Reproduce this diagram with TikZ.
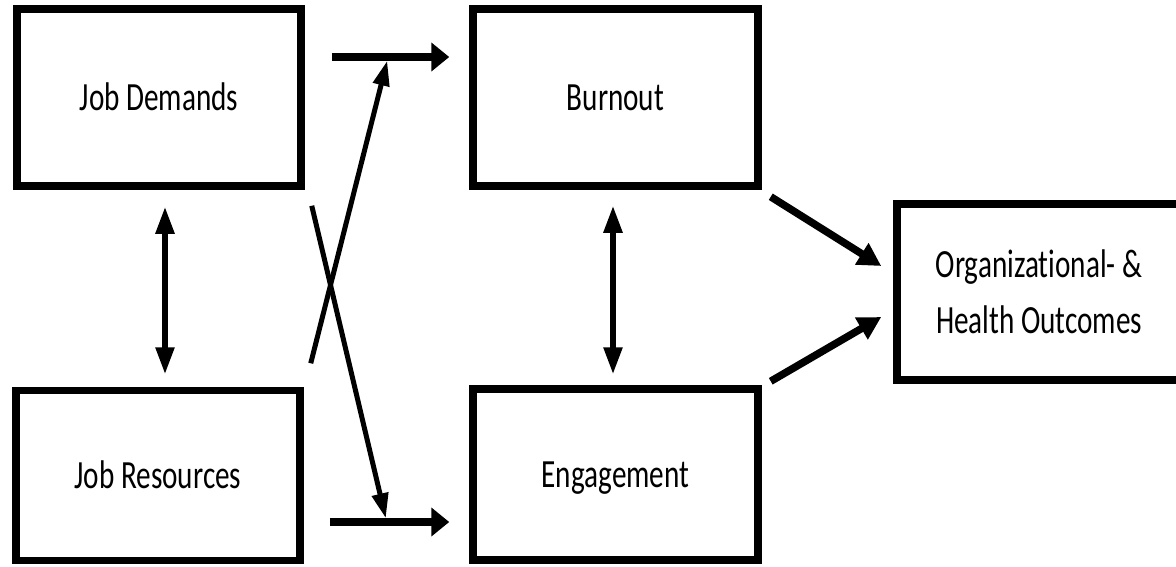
\documentclass[tikz,border=0pt]{standalone}
\usepackage{fontspec}
\setmainfont{Carlito}[FakeStretch=0.73,Ligatures={NoCommon}]
\usetikzlibrary{arrows.meta}
\begin{document}
\begin{tikzpicture}[x=1pt,y=-1pt,
  box/.style={draw,line width=7.5pt,inner sep=0pt,minimum width=284pt,
    font=\fontsize{40pt}{56pt}\selectfont,text height=26pt,text depth=0pt},
  harrow/.style={line width=7.5pt,-{Triangle[length=18pt,width=28pt]}},
  varrow/.style={line width=5.5pt,{Triangle[length=27pt,width=18pt]}-{Triangle[length=27pt,width=18pt]}},
  darrow/.style={line width=5pt,-{Triangle[length=25pt,width=16pt]}},
  oarrow/.style={line width=7.5pt,-{Triangle[length=23pt,width=24pt]}}]
\clip (0,0) rectangle (1176,566);
\fill[white] (0,0) rectangle (1176,566);
\node[box,minimum height=177pt] (JD) at (159,97.5) {Job Demands};
\node[box,minimum height=170pt] (JR) at (158,475.5) {Job Resources};
\node[box,minimum width=285pt,minimum height=177pt] (BO) at (615.5,97.5) {Burnout};
\node[box,minimum width=285pt,minimum height=171pt] (EN) at (615.5,474.5) {Engagement};
\node[box,minimum height=176pt,align=center,text height=,text depth=] (OUT) at (1039,292) {Organizational- \&\\Health Outcomes};
% vertical double arrows
\draw[varrow] ([xshift=6pt,yshift=-17pt]JD.south) -- ([xshift=7pt,yshift=12.5pt]JR.north);
\draw[varrow] ([xshift=-2.5pt,yshift=-16pt]BO.south) -- ([xshift=-2.5pt,yshift=11pt]EN.north);
% horizontal arrows
\draw[harrow] ([xshift=27pt,yshift=40.5pt]JD.east) -- coordinate[pos=0.472] (m1) ([xshift=-20pt,yshift=40.5pt]BO.west);
\draw[harrow] ([xshift=26pt,yshift=-46.5pt]JR.east) -- coordinate[pos=0.469] (m2) ([xshift=-20pt,yshift=-47.5pt]EN.west);
% crossing diagonals
\draw[darrow] ([xshift=7pt,yshift=23.5pt]JR.north east) -- ([yshift=-3.7pt]m1);
\draw[darrow] ([xshift=7pt,yshift=-16pt]JD.south east) -- ([yshift=3.7pt]m2);
% arrows to outcomes
\draw[oarrow] ([xshift=9pt,yshift=-7pt]BO.south east) -- ([xshift=-12pt,yshift=26pt]OUT.west);
\draw[oarrow] ([xshift=9pt,yshift=4pt]EN.north east) -- ([xshift=-12pt,yshift=-25pt]OUT.west);
\end{tikzpicture}
\end{document}
